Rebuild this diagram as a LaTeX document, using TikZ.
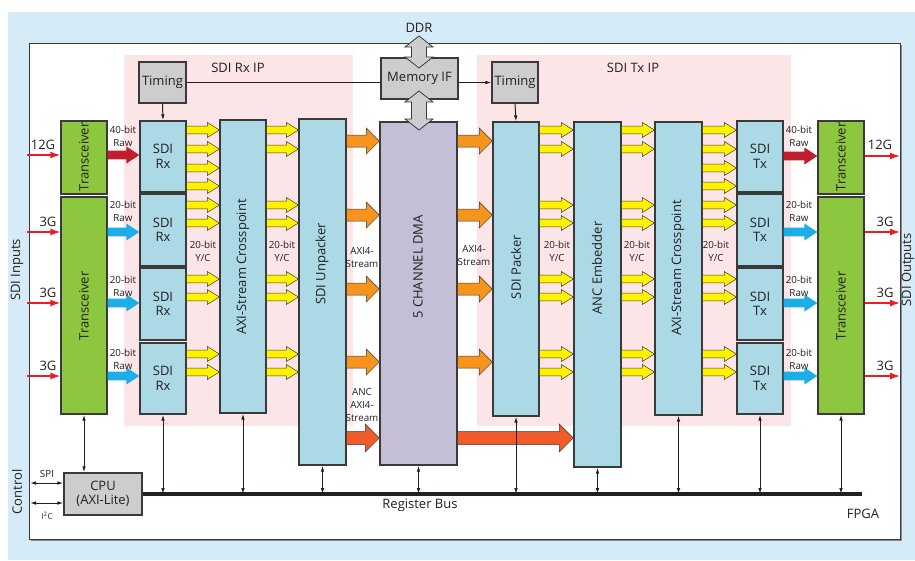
\documentclass[tikz,border=0pt]{standalone}
\usepackage{fontspec}
\setmainfont{Open Sans}
\usetikzlibrary{arrows.meta,calc}
\definecolor{bgblue}{HTML}{D5EBF7}
\definecolor{pinkbg}{HTML}{FCE5E7}
\definecolor{tgreen}{HTML}{8DC63F}
\definecolor{lblue}{HTML}{ABD9E5}
\definecolor{lav}{HTML}{C4BED6}
\definecolor{greyf}{HTML}{CDCDCD}
\definecolor{yel}{HTML}{FFF200}
\definecolor{orng}{HTML}{F7941D}
\definecolor{redor}{HTML}{F15A29}
\definecolor{dred}{HTML}{BE1E2D}
\definecolor{cyanar}{HTML}{1EAEE6}
\definecolor{redln}{HTML}{ED1C24}
\definecolor{ink}{HTML}{231F20}
\definecolor{boxln}{HTML}{3A3A3A}
\newcommand\mainf{\fontsize{13}{14.5}\selectfont}
\newcommand\smallf{\fontsize{9.8}{13}\selectfont}
\tikzset{
  x=1pt, y=-1pt,
  box/.style={draw=boxln, line width=1.3pt, inner sep=0pt, align=center, font=\mainf, text=ink},
  gbox/.style={box, fill=greyf},
  bbox/.style={box, fill=lblue},
  trbox/.style={box, fill=tgreen},
  dmabox/.style={box, fill=lav},
  txt/.style={font=\mainf, text=ink, inner sep=0pt, align=center},
  stxt/.style={font=\smallf, text=ink, inner sep=0pt, align=center},
  yarr/.style={fill=yel, draw=boxln, line width=0.5pt},
  oarr/.style={fill=orng, draw=boxln, line width=0.5pt},
  roarr/.style={fill=redor, draw=boxln, line width=0.5pt},
  drarr/.style={fill=dred, draw=none},
  carr/.style={fill=cyanar, draw=none},
  marr/.style={fill=greyf, draw=boxln, line width=0.8pt},
  dbl/.style={draw=ink, line width=1pt, {Latex[length=6pt,width=3.6pt]}-{Latex[length=6pt,width=3.6pt]}},
  sarr/.style={draw=ink, line width=1pt, -{Latex[length=6pt,width=3.6pt]}},
  redarr/.style={draw=redln, line width=1.4pt, -{Latex[length=10pt,width=7pt]}},
}
% box: name, style, x1, y1, x2, y2, text
\newcommand\bx[7]{\node[#2, minimum width={(#5-#3)*1pt}, minimum height={(#6-#4)*1pt}] (#1) at ({(#3+#5)/2},{(#4+#6)/2}) {#7};}
% block arrow: style, from node, to node, y, shaft half, head half, head length
\newcommand\barr[7]{\filldraw[#1] let \p1=(#2.east), \p2=(#3.west), \p3=(0,#4) in
  (\x1,{\y3-#5pt}) -- ({\x2-#7pt},{\y3-#5pt}) -- ({\x2-#7pt},{\y3-#6pt}) -- (\x2,\y3) --
  ({\x2-#7pt},{\y3+#6pt}) -- ({\x2-#7pt},{\y3+#5pt}) -- (\x1,{\y3+#5pt}) -- cycle;}
\newcommand\yb[3]{\barr{yarr}{#1}{#2}{#3}{3.8}{7.5}{12}}
\newcommand\ob[3]{\barr{oarr}{#1}{#2}{#3}{6}{13}{13}}
% vertical double block arrow: x, ytop, ybottom
\newcommand\varr[3]{\filldraw[marr] (#1,#2) -- ({#1+14},{#2+11}) -- ({#1+7.5},{#2+11}) -- ({#1+7.5},{#3-11}) -- ({#1+14},{#3-11}) -- (#1,#3) -- ({#1-14},{#3-11}) -- ({#1-7.5},{#3-11}) -- ({#1-7.5},{#2+11}) -- ({#1-14},{#2+11}) -- cycle;}
\begin{document}
\begin{tikzpicture}
\useasboundingbox (0,0) rectangle (915,560);
\fill[white] (0,0) rectangle (915,560);
\fill[bgblue] (8,12) rectangle (915,560);
\fill[black!45] (31,45) rectangle (901.5,540.5);
\filldraw[fill=white, draw=boxln, line width=1pt] (29,43) rectangle (900,539);
\fill[pinkbg] (124,55) rectangle (353,426);
\fill[pinkbg] (477,55) rectangle (791,426);

\node[txt] (rxip) at (238,68) {SDI Rx IP};
\node[txt] (txip) at (633,68) {SDI Tx IP};
\node[txt] (ddr) at (419,28) {DDR};
\node[txt, rotate=90] (sdiin) at (17,270) {SDI Inputs};
\node[txt, rotate=90] (sdiout) at (908,270) {SDI Outputs};
\node[txt, rotate=90] (ctrl) at (17,492) {Control};
\node[txt] (fpga) at (863,514) {FPGA};
\node[txt] (regbus) at (420,505) {Register Bus};

% boxes
\bx{timrx}{gbox}{139}{62}{186}{103}{Timing}
\bx{mem}{gbox}{381}{58}{458}{99}{Memory IF}
\bx{timtx}{gbox}{492}{62}{538}{103}{Timing}
\bx{trl1}{trbox}{61}{121}{107}{194}{}
\bx{trl2}{trbox}{61}{197}{107}{414}{}
\bx{rx1}{bbox}{140}{121}{186}{192}{SDI\\Rx}
\bx{rx2}{bbox}{140}{194}{186}{266}{SDI\\Rx}
\bx{rx3}{bbox}{140}{268}{186}{340}{SDI\\Rx}
\bx{rx4}{bbox}{140}{343}{186}{414}{SDI\\Rx}
\bx{xprx}{bbox}{220}{120}{266}{413}{}
\bx{unp}{bbox}{299}{119}{346}{465}{}
\bx{dma}{dmabox}{380}{122}{457}{465}{}
\bx{pack}{bbox}{493}{122}{539}{416}{}
\bx{anc}{bbox}{574}{122}{621}{467}{}
\bx{xptx}{bbox}{655}{122}{702}{415}{}
\bx{tx1}{bbox}{737}{121}{783}{192}{SDI\\Tx}
\bx{tx2}{bbox}{737}{194}{783}{266}{SDI\\Tx}
\bx{tx3}{bbox}{737}{268}{783}{340}{SDI\\Tx}
\bx{tx4}{bbox}{737}{343}{783}{414}{SDI\\Tx}
\bx{trr1}{trbox}{818}{121}{864}{194}{}
\bx{trr2}{trbox}{818}{197}{864}{414}{}
\bx{cpu}{gbox}{64}{473}{142}{515}{CPU\\(AXI-Lite)}

% rotated labels
\node[txt, rotate=90] (ltrl1) at (84,157) {Transceiver};
\node[txt, rotate=90] (ltrl2) at (84,306) {Transceiver};
\node[txt, rotate=90] (ltrr1) at (841,157) {Transceiver};
\node[txt, rotate=90] (ltrr2) at (841,306) {Transceiver};
\node[txt, rotate=90] (lxprx) at (243,267) {AXI-Stream Crosspoint};
\node[txt, rotate=90] (lunp) at (322,264) {SDI Unpacker};
\node[txt, rotate=90] (ldma) at (418,267) {5 CHANNEL DMA};
\node[txt, rotate=90] (lpack) at (516,267) {SDI Packer};
\node[txt, rotate=90] (lanc) at (597,268) {ANC Embedder};
\node[txt, rotate=90] (lxptx) at (678,268) {AXI-Stream Crosspoint};

% timing connections
\draw[ink, line width=1pt] (timrx.east) -- (timrx.east -| mem.west);
\draw[sarr] (timrx.east -| mem.east) -- (timtx.west);
\draw[sarr] (timrx.south) -- (rx1.north);
\draw[sarr] (timtx.south) -- (pack.north);

% inputs
\coordinate (in1) at (27,155);
\coordinate (in2) at (27,232);
\coordinate (in3) at (27,303);
\coordinate (in4) at (27,376);
\draw[redarr] (in1) -- (in1 -| trl1.west);
\draw[redarr] (in2) -- (in2 -| trl2.west);
\draw[redarr] (in3) -- (in3 -| trl2.west);
\draw[redarr] (in4) -- (in4 -| trl2.west);
\node[txt] (l12g) at (43,145) {12G};
\node[txt] (l3ga) at (48,222) {3G};
\node[txt] (l3gb) at (48,293) {3G};
\node[txt] (l3gc) at (48,366) {3G};

% outputs
\coordinate (out1) at (900,156);
\coordinate (out2) at (900,232);
\coordinate (out3) at (900,303);
\coordinate (out4) at (900,376);
\draw[redarr] (out1 -| trr1.east) -- (out1);
\draw[redarr] (out2 -| trr2.east) -- (out2);
\draw[redarr] (out3 -| trr2.east) -- (out3);
\draw[redarr] (out4 -| trr2.east) -- (out4);
\node[txt] (r12g) at (880,145) {12G};
\node[txt] (r3ga) at (885,222) {3G};
\node[txt] (r3gb) at (885,293) {3G};
\node[txt] (r3gc) at (885,366) {3G};

% raw arrows
\barr{drarr}{trl1}{rx1}{155}{4.4}{8.5}{13}
\barr{carr}{trl2}{rx2}{232}{4.4}{8.5}{13}
\barr{carr}{trl2}{rx3}{303}{4.4}{8.5}{13}
\barr{carr}{trl2}{rx4}{376}{4.4}{8.5}{13}
\barr{drarr}{tx1}{trr1}{156}{4.4}{8.5}{13}
\barr{carr}{tx2}{trr2}{232}{4.4}{8.5}{13}
\barr{carr}{tx3}{trr2}{303}{4.4}{8.5}{13}
\barr{carr}{tx4}{trr2}{376}{4.4}{8.5}{13}
\node[stxt] (raw1) at (123,136) {40-bit\\Raw};
\node[stxt] (raw2) at (123,211) {20-bit\\Raw};
\node[stxt] (raw3) at (123,286) {20-bit\\Raw};
\node[stxt] (raw4) at (123,359) {20-bit\\Raw};
\node[stxt] (raw5) at (799,136) {40-bit\\Raw};
\node[stxt] (raw6) at (799,211) {20-bit\\Raw};
\node[stxt] (raw7) at (799,286) {20-bit\\Raw};
\node[stxt] (raw8) at (799,359) {20-bit\\Raw};

% yellow: rx -> crosspoint
\yb{rx1}{xprx}{130}\yb{rx1}{xprx}{149}\yb{rx1}{xprx}{168}\yb{rx1}{xprx}{186}
\yb{rx2}{xprx}{205}\yb{rx2}{xprx}{223}
\yb{rx3}{xprx}{279}\yb{rx3}{xprx}{297}
\yb{rx4}{xprx}{354}\yb{rx4}{xprx}{372}
% crosspoint -> unpacker
\foreach \yy in {130,149,205,223,279,297,354,372}{\yb{xprx}{unp}{\yy}}
% packer -> anc, anc -> crosspoint
\foreach \yy in {130,149,205,223,279,297,354,372}{\yb{pack}{anc}{\yy}\yb{anc}{xptx}{\yy}}
% crosspoint -> tx
\yb{xptx}{tx1}{130}\yb{xptx}{tx1}{149}\yb{xptx}{tx1}{168}\yb{xptx}{tx1}{186}
\yb{xptx}{tx2}{205}\yb{xptx}{tx2}{223}
\yb{xptx}{tx3}{279}\yb{xptx}{tx3}{297}
\yb{xptx}{tx4}{354}\yb{xptx}{tx4}{372}
\node[stxt] (yc1) at (203,251) {20-bit\\Y/C};
\node[stxt] (yc2) at (282,251) {20-bit\\Y/C};
\node[stxt] (yc3) at (557,251) {20-bit\\Y/C};
\node[stxt] (yc4) at (637,251) {20-bit\\Y/C};
\node[stxt] (yc5) at (716,251) {20-bit\\Y/C};

% orange
\foreach \yy in {141,215,289,362}{\ob{unp}{dma}{\yy}\ob{dma}{pack}{\yy}}
\barr{roarr}{unp}{dma}{438}{6.5}{14}{14}
\barr{roarr}{dma}{anc}{438}{6.5}{14}{14}
\node[stxt] (axs1) at (362,258) {AXI4-\\Stream};
\node[stxt] (axs2) at (474,256) {AXI4-\\Stream};
\node[stxt] (axs3) at (362,405) {ANC\\AXI4-\\Stream};

% memory arrows
\varr{419}{36}{68}
\varr{419}{91}{130}

% register bus
\coordinate (busE) at (862,494);
\draw[ink, line width=3.5pt] (cpu.east) -- (cpu.east -| busE);
\draw[dbl] (trl2.south) -- (trl2.south |- cpu.north);
\foreach \nn in {rx4,xprx,unp,dma,pack,anc,xptx,tx4,trr2}{\draw[dbl] (\nn.south) -- (\nn.south |- busE);}
\coordinate (spi) at (30,483);
\coordinate (i2c) at (30,503);
\draw[dbl] (spi) -- (spi -| cpu.west);
\draw[dbl] (i2c) -- (i2c -| cpu.west);
\node[stxt] (lspi) at (47,474) {SPI};
\node[stxt, font=\fontsize{8}{10}\selectfont] (li2c) at (47,516) {I\textsuperscript{2}C};
\end{tikzpicture}
\end{document}
